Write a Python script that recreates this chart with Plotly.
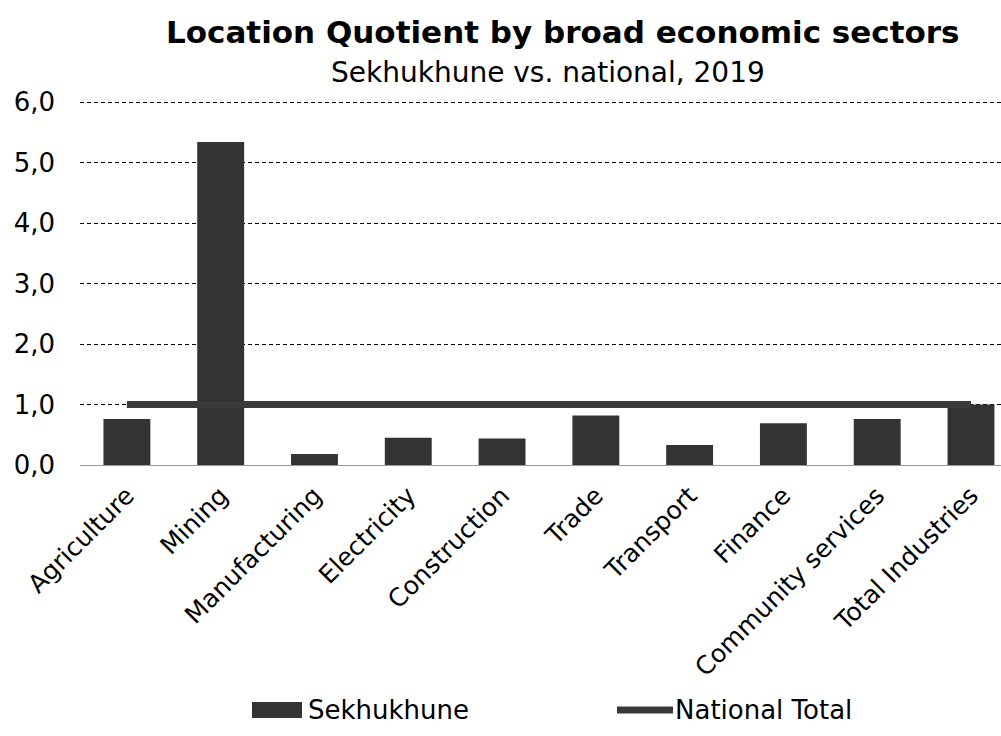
import plotly.graph_objects as go

sectors = ["Agriculture", "Mining", "Manufacturing", "Electricity", "Construction",
           "Trade", "Transport", "Finance", "Community services", "Total Industries"]
sekhukhune_lq = [0.76, 5.34, 0.18, 0.45, 0.44, 0.82, 0.33, 0.69, 0.76, 1.00]
national_total = [1.0] * len(sectors)
y_ticks = [0, 1, 2, 3, 4, 5, 6]
y_tick_text = ["0,0", "1,0", "2,0", "3,0", "4,0", "5,0", "6,0"]

font_family = "DejaVu Sans, Verdana, sans-serif"
bar_color = "#333333"
line_color = "#3a3a3a"

fig = go.Figure()
fig.add_trace(go.Bar(
    x=sectors, y=sekhukhune_lq, name="Sekhukhune",
    marker=dict(color=bar_color, line=dict(width=0)),
    width=0.5, showlegend=False,
))
fig.add_trace(go.Scatter(
    x=sectors, y=national_total, name="National Total", mode="lines",
    line=dict(color=line_color, width=7), showlegend=False,
))

# Plot area: 80..1001 px horizontally, 101..465 px vertically
plot_top, plot_bottom = 101, 465
plot_h = plot_bottom - plot_top


def py(pixel_y):
    """Convert a pixel row into paper coordinates."""
    return (plot_bottom - pixel_y) / plot_h


def px(pixel_x):
    return (pixel_x - 80) / (1001 - 80)


fig.update_layout(
    width=1001, height=736,
    paper_bgcolor="white", plot_bgcolor="white",
    margin=dict(l=80, r=0, t=plot_top, b=736 - plot_bottom),
    font=dict(family=font_family, color="black", size=20),
    showlegend=False,
    bargap=0.5,
)

# Titles
fig.add_annotation(text="<b>Location Quotient by broad economic sectors</b>",
                   xref="paper", yref="paper", x=px(563), y=py(32),
                   xanchor="center", yanchor="middle",
                   showarrow=False, font=dict(size=31))
fig.add_annotation(text="Sekhukhune vs. national, 2019",
                   xref="paper", yref="paper", x=px(548), y=py(72),
                   xanchor="center", yanchor="middle",
                   showarrow=False, font=dict(size=28))

# Legend drawn below the axis labels
leg_y = 710
fig.add_shape(type="rect", xref="paper", yref="paper",
              x0=px(252), x1=px(302), y0=py(leg_y + 8), y1=py(leg_y - 8),
              fillcolor=bar_color, line=dict(width=0))
fig.add_annotation(text="Sekhukhune", xref="paper", yref="paper",
                   x=px(306), y=py(leg_y), xanchor="left", yanchor="middle",
                   showarrow=False, font=dict(size=26))
fig.add_shape(type="line", xref="paper", yref="paper",
              x0=px(617), x1=px(673), y0=py(leg_y), y1=py(leg_y),
              line=dict(color=line_color, width=7))
fig.add_annotation(text="National Total", xref="paper", yref="paper",
                   x=px(673), y=py(leg_y), xanchor="left", yanchor="middle",
                   showarrow=False, font=dict(size=26))

fig.update_xaxes(
    range=[-0.5, 9.32], tickangle=-45, tickfont=dict(size=25),
    showline=False, showgrid=False, ticks="", ticklabelstandoff=10,
)
fig.update_yaxes(
    range=[0, 6.02], tickvals=y_ticks, ticktext=y_tick_text, tickfont=dict(size=26),
    showgrid=True, gridcolor="black", gridwidth=1, griddash="4px,3px",
    zeroline=True, zerolinecolor="#999999", zerolinewidth=1,
    showline=False, ticks="", ticklabelstandoff=24,
)

fig.write_html("out.html")
